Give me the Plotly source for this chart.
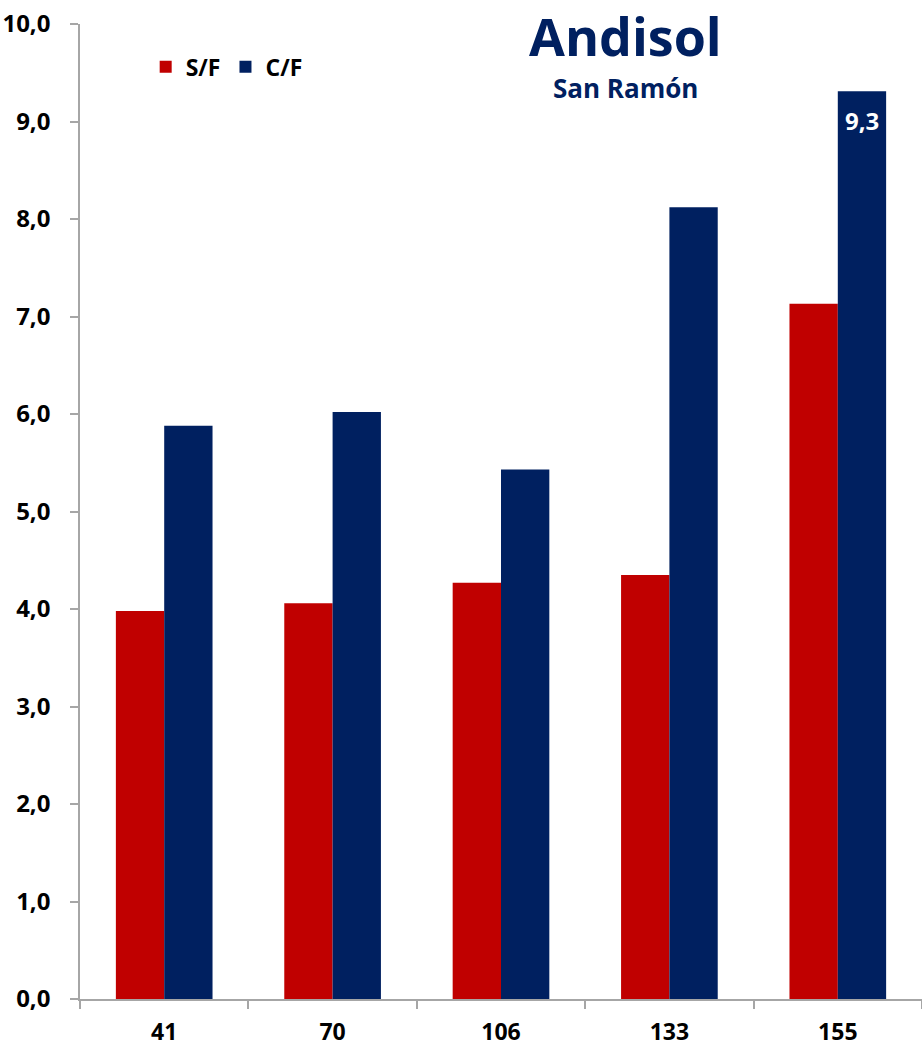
import plotly.graph_objects as go

categories = ["41", "70", "106", "133", "155"]
sf_values = [3.98, 4.06, 4.27, 4.35, 7.13]
cf_values = [5.88, 6.02, 5.43, 8.12, 9.31]
series_names = ["S/F", "C/F"]
title_text = "Andisol"
subtitle_text = "San Ramón"

RED = "#C00000"
NAVY = "#002060"
FONT = "Open Sans"
BARGAP = 0.426

fig = go.Figure()
fig.add_trace(go.Bar(name=series_names[0], x=categories, y=sf_values,
                     marker=dict(color=RED, line=dict(width=0))))
fig.add_trace(go.Bar(name=series_names[1], x=categories, y=cf_values,
                     marker=dict(color=NAVY, line=dict(width=0))))

# data label on the last C/F bar
bar_w = (1 - BARGAP) / 2
last = len(categories) - 1
fig.add_annotation(x=last + bar_w / 2, y=cf_values[last], xref="x", yref="y",
                   text=f"<b>{cf_values[last]:.1f}</b>".replace(".", ","),
                   showarrow=False, yanchor="top", yshift=-11,
                   font=dict(family=FONT, size=24, color="white"))

fig.add_annotation(text=f"<b>{title_text}</b>", x=0.648, y=0.988, xref="paper", yref="paper",
                   showarrow=False, font=dict(family=FONT, size=52, color=NAVY),
                   xanchor="center", yanchor="middle")
fig.add_annotation(text=f"<b>{subtitle_text}</b>", x=0.648, y=0.934, xref="paper", yref="paper",
                   showarrow=False, font=dict(family=FONT, size=26, color=NAVY),
                   xanchor="center", yanchor="middle")

fig.update_layout(
    width=922, height=1049,
    margin=dict(l=80, r=0, t=24, b=50),
    paper_bgcolor="white", plot_bgcolor="white",
    separators=", ",
    barmode="group", bargap=BARGAP, bargroupgap=0,
    showlegend=True,
    legend=dict(orientation="h", x=0.078, y=0.956, xanchor="left", yanchor="middle",
                font=dict(family=FONT, size=23, color="black", weight="bold"),
                itemwidth=30, tracegroupgap=0, bgcolor="rgba(0,0,0,0)"),
    font=dict(family=FONT, color="black"),
)
fig.update_yaxes(range=[0, 10], dtick=1, tickformat=".1f", showgrid=False,
                 showline=True, linecolor="#A6A6A6", linewidth=1.5,
                 ticks="outside", ticklen=8, tickcolor="#A6A6A6", tickwidth=1.5,
                 ticklabelstandoff=15,
                 tickfont=dict(family=FONT, size=24, color="black", weight="bold"),
                 zeroline=False)
fig.update_xaxes(showgrid=False, showline=True, linecolor="#A6A6A6", linewidth=1.5,
                 ticks="outside", ticklen=8, tickcolor="#A6A6A6", tickwidth=1.5,
                 tickson="boundaries", ticklabelstandoff=12,
                 tickfont=dict(family=FONT, size=23, color="black", weight="bold"))

fig.write_html("out.html", config={"displayModeBar": False},
               post_script="document.body.style.margin='0';document.body.style.padding='0';")
